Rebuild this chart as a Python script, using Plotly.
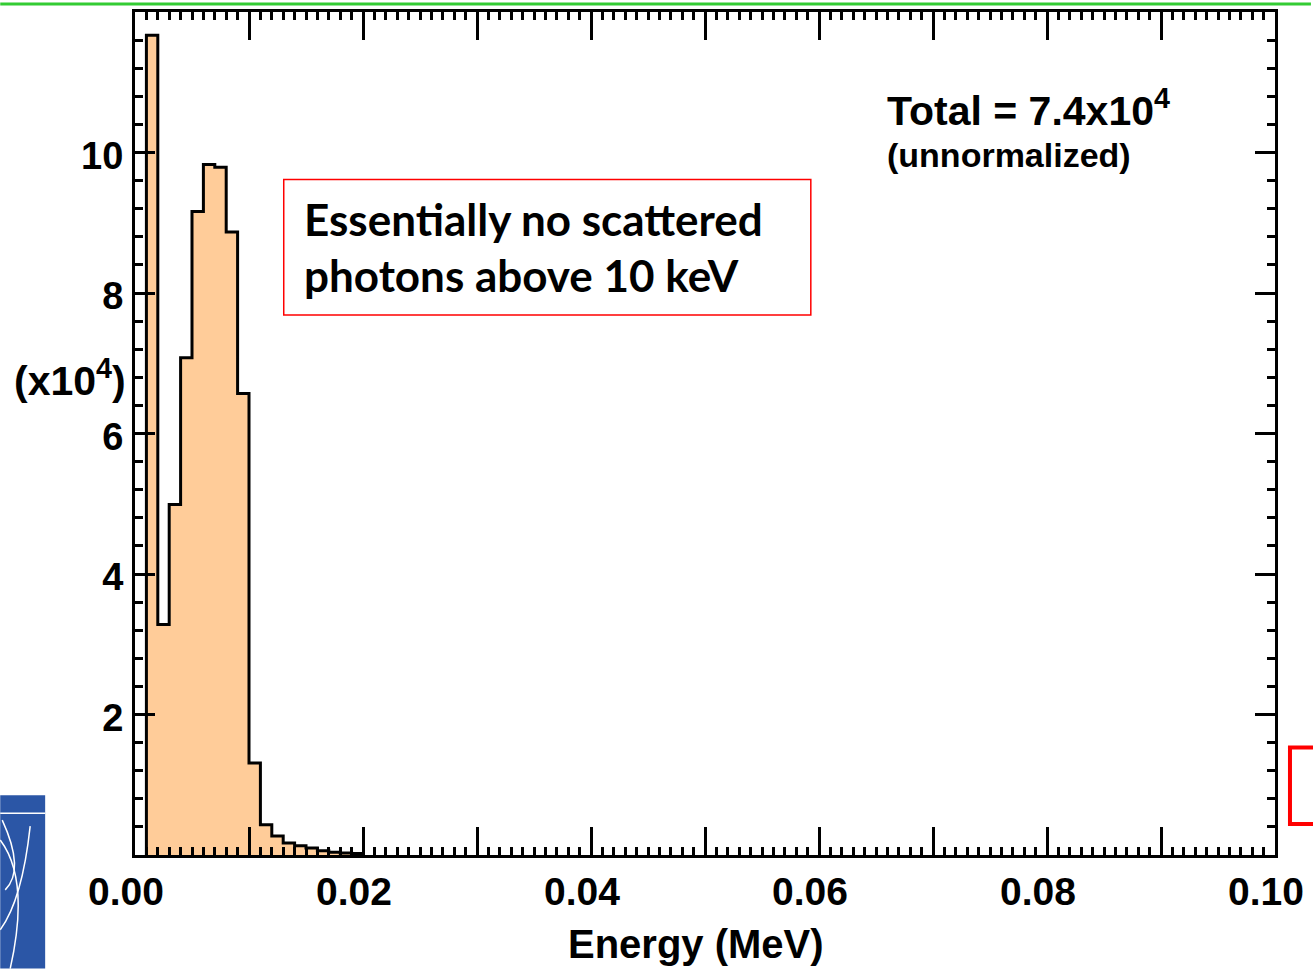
import plotly.graph_objects as go

# ---- data ----
bin_edges_mev = [0.001, 0.002, 0.003, 0.004, 0.005, 0.006, 0.007, 0.008, 0.009, 0.010,
                 0.011, 0.012, 0.013, 0.014, 0.015, 0.016, 0.017, 0.018, 0.019, 0.020]
counts_x1e4 = [11.67, 3.28, 4.99, 7.08, 9.16, 9.83, 9.79, 8.87, 6.57, 1.31,
               0.43, 0.27, 0.17, 0.13, 0.10, 0.06, 0.04, 0.03, 0.02]

x_tickvals = [0.00, 0.01, 0.02, 0.03, 0.04, 0.05, 0.06, 0.07, 0.08, 0.09, 0.10]
x_ticktext = ["0.00", "", "0.02", "", "0.04", "", "0.06", "", "0.08", "", "0.10"]
y_tickvals = [2, 4, 6, 8, 10]
y_ticktext = ["2", "4", "6", "8", "10"]

# step outline of the histogram
xs = [bin_edges_mev[0]] + bin_edges_mev[:-1] + [bin_edges_mev[-1], bin_edges_mev[-1]]
ys = [0] + counts_x1e4 + [counts_x1e4[-1], 0]

W, H = 1313, 969
L, R, T, B = 135, 1277, 9, 855


def px(xp):
    return (xp - L) / (R - L)


def py(yp):
    return (B - yp) / (B - T)


fig = go.Figure()
fig.add_trace(go.Scatter(
    x=xs, y=ys, mode="lines", line=dict(color="black", width=3, shape="hv"),
    fill="tozeroy", fillcolor="#FFCC99", hoverinfo="skip", showlegend=False))

FONT = "Liberation Sans, Arial, sans-serif"
BOXFONT = "Lato, Open Sans, sans-serif"

fig.update_layout(
    width=W, height=H,
    margin=dict(l=L, r=W - R, t=T, b=H - B),
    paper_bgcolor="white", plot_bgcolor="white",
    showlegend=False,
    xaxis=dict(
        range=[0, 0.10], showgrid=False, zeroline=False,
        showline=True, linecolor="black", linewidth=3, mirror="allticks",
        ticks="inside", ticklen=28, tickwidth=3, tickcolor="black",
        tickmode="array", tickvals=x_tickvals, ticktext=x_ticktext,
        tickfont=dict(family=FONT, size=39, color="black", weight="bold"),
        ticklabelshift=-9, ticklabelstandoff=0,
        minor=dict(dtick=0.001, ticks="inside", ticklen=8, tickwidth=3, tickcolor="black", showgrid=False),
    ),
    yaxis=dict(
        range=[0, 12], showgrid=False, zeroline=False,
        showline=True, linecolor="black", linewidth=3, mirror="allticks",
        ticks="inside", ticklen=20, tickwidth=3, tickcolor="black",
        tickmode="array", tickvals=y_tickvals, ticktext=y_ticktext,
        tickfont=dict(family=FONT, size=38, color="black", weight="bold"),
        ticklabelstandoff=1, ticklabelshift=3,
        minor=dict(dtick=0.4, ticks="inside", ticklen=8, tickwidth=3, tickcolor="black", showgrid=False),
    ),
)

annos = [
    dict(text="Total = 7.4x10<sup>4</sup>", x=px(886), y=py(105), xanchor="left", yanchor="middle",
         font=dict(family=FONT, size=41, color="black", weight="bold")),
    dict(text="(unnormalized)", x=px(886), y=py(153), xanchor="left", yanchor="middle",
         font=dict(family=FONT, size=34, color="black", weight="bold")),
    dict(text="Essentially no scattered", x=px(302), y=py(217), xanchor="left", yanchor="middle",
         font=dict(family=BOXFONT, size=44, color="black", weight="bold")),
    dict(text="photons above 10 keV", x=px(302), y=py(273), xanchor="left", yanchor="middle",
         font=dict(family=BOXFONT, size=44, color="black", weight="bold")),
    dict(text="(x10<sup>4</sup>)", x=px(70), y=py(376), xanchor="center", yanchor="middle",
         font=dict(family=FONT, size=41, color="black", weight="bold")),
    dict(text="Energy (MeV)", x=px(697), y=py(944), xanchor="center", yanchor="middle",
         font=dict(family=FONT, size=40, color="black", weight="bold")),
]
for a in annos:
    a.update(xref="paper", yref="paper", showarrow=False)
    fig.add_annotation(**a)

shapes = [
    # red box around the note
    dict(type="rect", x0=px(284), x1=px(812), y0=py(313), y1=py(177),
         line=dict(color="#FF0000", width=1.5)),
    # partial red box at right edge
    dict(type="rect", x0=px(1292), x1=px(1340), y0=py(824), y1=py(747),
         line=dict(color="#FF0000", width=4)),
    # green rule at top
    dict(type="line", x0=px(0), x1=px(W), y0=py(1), y1=py(1),
         line=dict(color="#33CC33", width=3)),
    # blue logo at bottom-left
    dict(type="rect", x0=px(0), x1=px(45), y0=py(969), y1=py(795),
         fillcolor="#2B56A6", line=dict(width=0)),
    dict(type="line", x0=px(0), x1=px(45), y0=py(813), y1=py(813),
         line=dict(color="white", width=1.5)),
]
for s in shapes:
    s.update(xref="paper", yref="paper", layer="above")
    fig.add_shape(**s)

# white curves in the logo
fig.add_shape(type="path", xref="paper", yref="paper", layer="above",
              path=f"M {px(30)},{py(826)} Q {px(22)},{py(900)} {px(0)},{py(930)}",
              line=dict(color="white", width=1.5))
fig.add_shape(type="path", xref="paper", yref="paper", layer="above",
              path=f"M {px(0)},{py(840)} Q {px(30)},{py(880)} {px(10)},{py(969)}",
              line=dict(color="white", width=1.5))
fig.add_shape(type="path", xref="paper", yref="paper", layer="above",
              path=f"M {px(2)},{py(820)} Q {px(25)},{py(870)} {px(5)},{py(890)}",
              line=dict(color="white", width=1.5))

fig.write_html("out.html")
